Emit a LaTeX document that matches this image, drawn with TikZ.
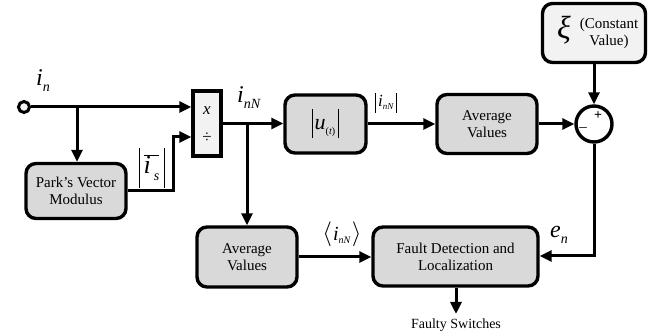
\documentclass[tikz,border=0pt]{standalone}
\usepackage{fontspec}
\setmainfont{Liberation Serif}
\usetikzlibrary{arrows.meta}
\definecolor{boxgray}{HTML}{D9D9D9}
\definecolor{lightbox}{HTML}{F2F2F2}
\newcommand\bigi{\fontsize{24}{24}\selectfont\textit{i}}
\newcommand\vbar[2]{\rule[#1]{0.9pt}{#2}}
\tikzset{
  blk/.style={draw, line width=3.4pt, rounded corners=10pt, fill=boxgray, align=center,
    font=\fontsize{15}{17}\selectfont, inner sep=0pt},
  wire/.style={line width=3pt},
  arr/.style={wire, -{Triangle[length=12pt,width=11pt]}},
  lbl/.style={inner sep=0pt}
}
\begin{document}
\begin{tikzpicture}[x=1pt,y=-1pt]
\useasboundingbox (0,0) rectangle (654,336);
% nodes
\node[draw, line width=3pt, circle, minimum size=11pt, inner sep=0pt, fill=lightbox] (in) at (24,107) {};
\node[blk, minimum width=100pt, minimum height=55pt] (park) at (76,191) {Park’s Vector\\Modulus};
\node[draw, line width=3.4pt, fill=lightbox, minimum width=28pt, minimum height=65pt, inner sep=0pt] (mul) at (207,123.5) {};
\node[lbl, font=\fontsize{17}{17}\selectfont\itshape] (mx) at (207,111) {x};
\node[lbl, font=\fontsize{17}{17}\selectfont] (md) at (207,138) {÷};
\node[blk, minimum width=81pt, minimum height=58pt] (abs) at (325.5,124)
  {\vbar{-9pt}{29pt}\hspace{2pt}{\fontsize{22}{22}\selectfont\textit{u}}\raisebox{-5pt}{\fontsize{10}{10}\selectfont(\textit{t})}\hspace{3pt}\vbar{-9pt}{29pt}};
\node[blk, minimum width=100pt, minimum height=59pt] (avg1) at (487,124) {Average\\Values};
\node[draw, line width=3.4pt, circle, minimum size=36pt, inner sep=0pt, fill=white] (sum) at (594,124) {};
\node[lbl, font=\fontsize{14}{14}\selectfont\bfseries] (plus) at (598,116) {+};
\node[lbl, font=\fontsize{15}{15}\selectfont] (minus) at (583,130) {–};
\node[blk, fill=lightbox, minimum width=103pt, minimum height=59pt] (xi) at (594,33) {};
\node[lbl, font=\fontsize{32}{32}\selectfont\itshape] (xis) at (564,30) {ξ};
\node[lbl, align=center, font=\fontsize{15}{17}\selectfont] (xit) at (609,33) {(Constant\\Value)};
\node[blk, minimum width=100pt, minimum height=60pt] (avg2) at (247,257) {Average\\Values};
\node[blk, minimum width=165pt, minimum height=59pt] (fdl) at (455.5,256.5) {Fault Detection and\\Localization};
\node[lbl, font=\fontsize{14}{14}\selectfont] (fs) at (456,325) {Faulty Switches};
% labels
\node[lbl, anchor=base west] (lin) at (36,86) {\bigi\raisebox{-6pt}{\fontsize{14}{14}\selectfont\textit{n}}};
\node[lbl, anchor=base west] (linN) at (237,103) {\bigi\raisebox{-6pt}{\fontsize{14}{14}\selectfont\textit{nN}}};
\node[lbl] (lis) at (152,168)
  {\vbar{-14pt}{40pt}\hspace{4pt}$\overline{\hbox{\fontsize{26}{26}\selectfont\textit{i}\hspace{3pt}\raisebox{-7pt}{\fontsize{14}{14}\selectfont\textit{s}}}}$\hspace{5pt}\vbar{-14pt}{40pt}};
\node[lbl] (labs) at (386,103)
  {\vbar{-6pt}{20pt}\hspace{2pt}{\fontsize{17}{17}\selectfont\textit{i}}\raisebox{-3pt}{\fontsize{9}{9}\selectfont\textit{nN}}\hspace{2pt}\vbar{-6pt}{20pt}};
\node[lbl, font=\fontsize{24}{24}\selectfont] (lavg) at (342,234)
  {$\langle$\hspace{1pt}{\fontsize{20}{20}\selectfont\textit{i}}\raisebox{-3pt}{\fontsize{10}{10}\selectfont\textit{nN}}\hspace{1pt}$\rangle$};
\node[lbl, anchor=base west] (len) at (550,238) {{\fontsize{24}{24}\selectfont\textit{e}}\raisebox{-6pt}{\fontsize{14}{14}\selectfont\textit{n}}};
% coordinates
\coordinate (b1) at (77,107);
\coordinate (b2) at (247,123.5);
\coordinate (c1) at (173,191);
\coordinate (c2) at (173,137);
\coordinate (c3) at (594,256);
\coordinate (fsx) at (456,314);
% wires
\draw[arr] (in.east) -- (mul.west |- in);
\draw[arr] (b1) -- (park.north -| b1);
\draw[arr] (park.east |- c1) -- (c1) -- (c2) -- (mul.west |- c2);
\draw[arr] (mul.east |- b2) -- (abs.west |- b2);
\draw[arr] (b2) -- (avg2.north);
\draw[arr] (abs.east) -- (avg1.west);
\draw[arr] (avg1.east) -- (sum.west);
\draw[arr] (xi.south) -- (sum.north);
\draw[arr] (sum.south) -- (c3) -- (fdl.east |- c3);
\draw[arr] (avg2.east) -- (fdl.west |- avg2.east);
\draw[arr] (fdl.south -| fsx) -- (fsx);
\end{tikzpicture}
\end{document}
